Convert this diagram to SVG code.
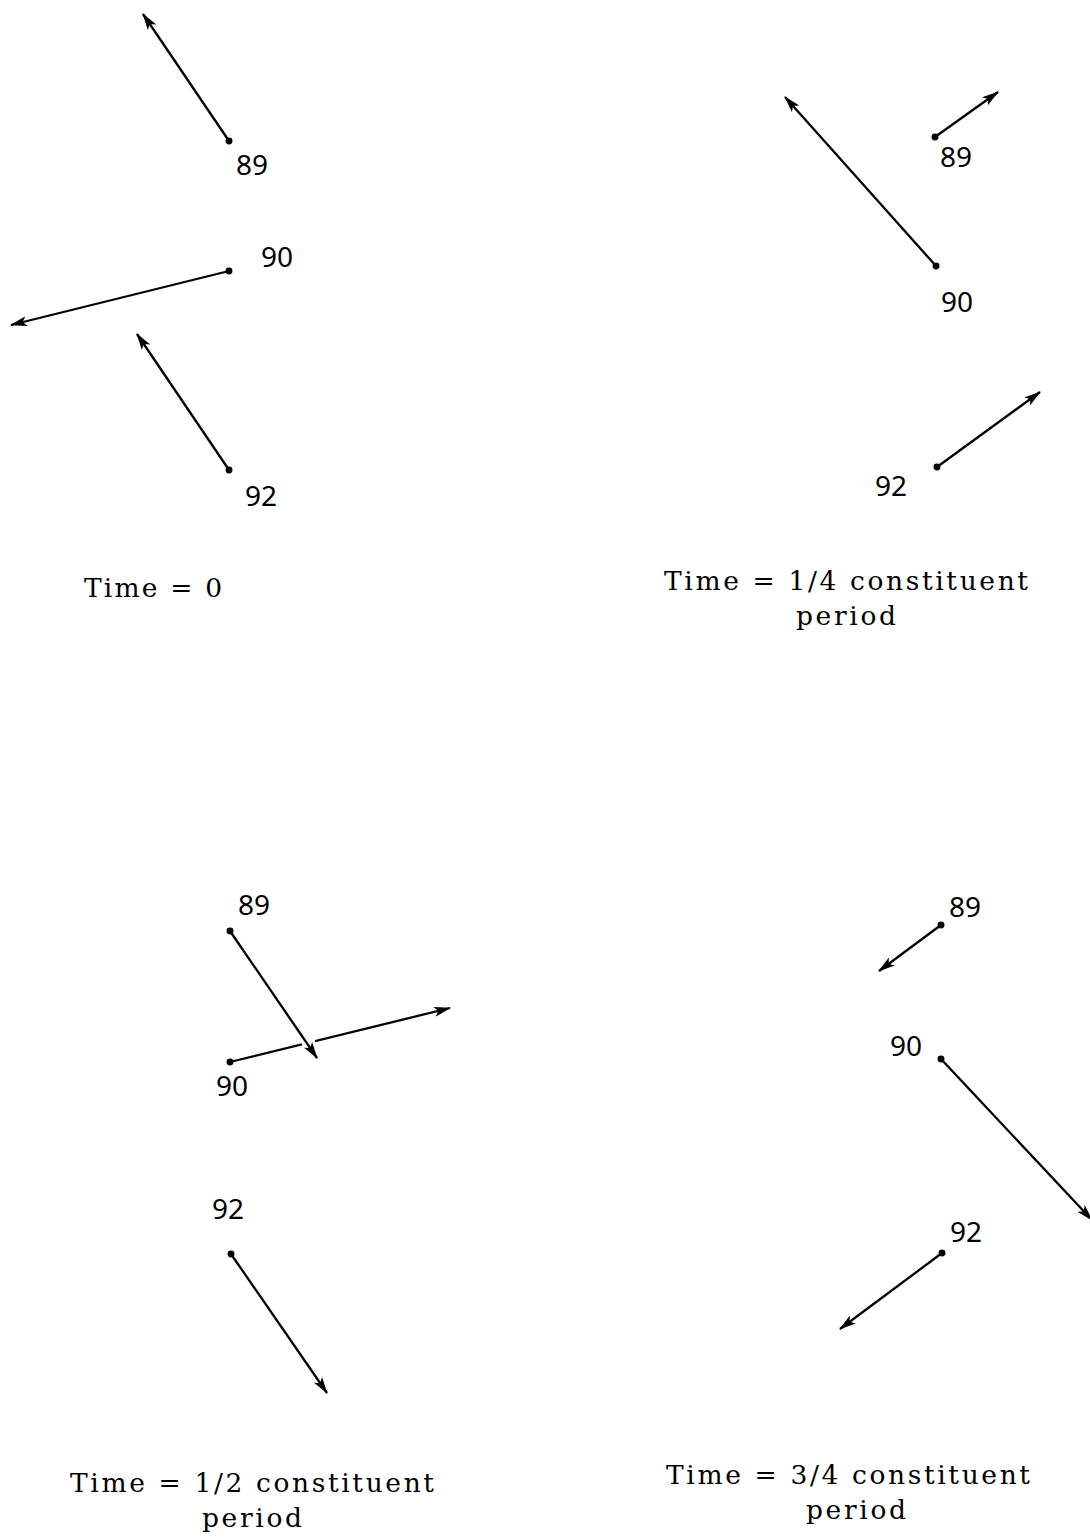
<svg xmlns="http://www.w3.org/2000/svg" width="1090" height="1537" viewBox="0 0 1090 1537">
  <style>
    .vec { stroke: #000; stroke-width: 2.3; fill: none; marker-end: url(#head); marker-start: url(#dot); }
    .num { font-family: "Noto Sans", "DejaVu Sans", sans-serif; font-size: 28px; fill: #000; }
    .cap { font-family: "DejaVu Serif", "Liberation Serif", serif; font-size: 26.5px; fill: #000; }
  </style>
  <defs>
    <marker id="head" viewBox="0 0 17 11" refX="16" refY="5.5" markerWidth="17" markerHeight="11" markerUnits="userSpaceOnUse" orient="auto">
      <path d="M0,0.5 L17,5.5 L0,10.5 L4,5.5 z" fill="#000"/>
    </marker>
    <marker id="dot" viewBox="0 0 8 8" refX="4" refY="4" markerWidth="7.5" markerHeight="7.5" markerUnits="userSpaceOnUse">
      <circle cx="4" cy="4" r="3.7" fill="#000"/>
    </marker>
  </defs>
  <rect width="1090" height="1537" fill="#fff"/>

  <!-- Time = 0 -->
  <g id="t0">
    <g id="t0-89"><line class="vec" x1="229" y1="141" x2="143" y2="14"/><text class="num" x="236" y="175">89</text></g>
    <g id="t0-90"><line class="vec" x1="229" y1="271" x2="11" y2="325"/><text class="num" x="261" y="267">90</text></g>
    <g id="t0-92"><line class="vec" x1="229" y1="470" x2="137" y2="334"/><text class="num" x="245" y="506">92</text></g>
    <text class="cap" x="84" y="597" textLength="138" lengthAdjust="spacing">Time = 0</text>
  </g>

  <!-- Time = 1/4 constituent period -->
  <g id="t1">
    <g id="t1-89"><line class="vec" x1="935" y1="137" x2="998" y2="92"/><text class="num" x="940" y="167">89</text></g>
    <g id="t1-90"><line class="vec" x1="936" y1="266" x2="785" y2="97"/><text class="num" x="941" y="312">90</text></g>
    <g id="t1-92"><line class="vec" x1="937" y1="467" x2="1040" y2="392"/><text class="num" x="875" y="496">92</text></g>
    <text class="cap" x="664" y="590" textLength="364" lengthAdjust="spacing">Time = 1/4 constituent</text>
    <text class="cap" x="796" y="625" textLength="100" lengthAdjust="spacing">period</text>
  </g>

  <!-- Time = 1/2 constituent period -->
  <g id="t2">
    <g id="t2-90">
      <line class="vec" x1="230" y1="1062" x2="450" y2="1008"/>
      <line x1="302" y1="1044.5" x2="315" y2="1041.3" stroke="#fff" stroke-width="5"/>
      <text class="num" x="216" y="1096">90</text>
    </g>
    <g id="t2-89"><line class="vec" x1="230" y1="931" x2="317" y2="1058"/><text class="num" x="238" y="915">89</text></g>
    <g id="t2-92"><line class="vec" x1="231" y1="1254" x2="327" y2="1393"/><text class="num" x="212" y="1219">92</text></g>
    <text class="cap" x="70" y="1492" textLength="364" lengthAdjust="spacing">Time = 1/2 constituent</text>
    <text class="cap" x="202" y="1527" textLength="100" lengthAdjust="spacing">period</text>
  </g>

  <!-- Time = 3/4 constituent period -->
  <g id="t3">
    <g id="t3-89"><line class="vec" x1="941" y1="925" x2="879" y2="971"/><text class="num" x="949" y="917">89</text></g>
    <g id="t3-90"><line class="vec" x1="941" y1="1059" x2="1092" y2="1220"/><text class="num" x="890" y="1056">90</text></g>
    <g id="t3-92"><line class="vec" x1="942" y1="1253" x2="840" y2="1329"/><text class="num" x="950" y="1242">92</text></g>
    <text class="cap" x="666" y="1484" textLength="364" lengthAdjust="spacing">Time = 3/4 constituent</text>
    <text class="cap" x="806" y="1519" textLength="100" lengthAdjust="spacing">period</text>
  </g>
</svg>
